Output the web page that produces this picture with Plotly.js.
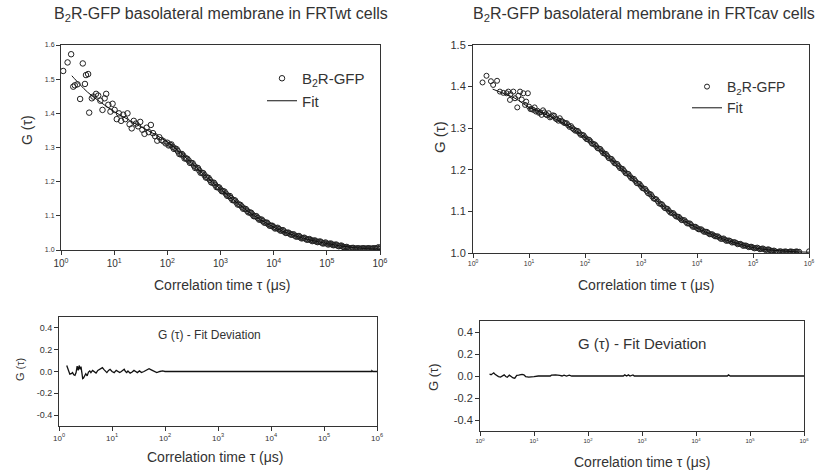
<!DOCTYPE html>
<html>
<head>
<meta charset="utf-8">
<script src="https://cdn.plot.ly/plotly-3.0.1.min.js"></script>
<style>html,body{margin:0;padding:0;background:#fff;}#chart{width:825px;height:475px;}</style>
</head>
<body>
<div id="chart"></div>
<script>
// ---------- data: FRTwt (left) ----------
const tauWt = [1.10,1.33,1.55,1.70,1.82,2.04,2.29,2.57,2.82,2.95,3.24,3.39,3.80,4.07,4.57,5.01,5.50,6.03,6.61,7.08,7.76,8.51,9.33,
 10.2,11.2,12.3,13.5,14.8,16.2,17.8,19.5,21.4,23.4,25.7,28.2,30.9,33.9,37.2,40.7,44.7,49.0,53.7,58.9,64.6,70.8,77.6,85.1,93.3,
 100,112,126,141,158,178,200,224,251,282,316,355,398,447,501,562,631,708,794,891,
 1000,1120,1260,1410,1580,1780,2000,2240,2510,2820,3160,3550,3980,4470,5010,5620,6310,7080,7940,8910,
 10000,11200,12600,14100,15800,17800,20000,22400,25100,28200,31600,35500,39800,44700,50100,56200,63100,70800,79400,89100,
 100000,112000,126000,141000,158000,178000,200000,224000,251000,282000,316000,355000,398000,447000,501000,562000,631000,708000,794000,891000,1000000];
const gWt = [1.524,1.549,1.573,1.478,1.482,1.485,1.442,1.546,1.486,1.512,1.515,1.402,1.444,1.449,1.457,1.452,1.437,1.410,1.444,1.457,1.425,1.405,1.428,
 1.410,1.383,1.400,1.378,1.396,1.383,1.400,1.368,1.356,1.378,1.370,1.362,1.375,1.352,1.340,1.358,1.345,1.366,1.342,1.333,1.320,1.330,1.322,1.318,1.312,
 1.314,1.308,1.302,1.297,1.289,1.280,1.276,1.268,1.262,1.255,1.247,1.241,1.233,1.226,1.219,1.212,1.205,1.197,1.191,1.184,
 1.177,1.172,1.165,1.158,1.152,1.146,1.139,1.133,1.127,1.121,1.115,1.110,1.104,1.099,1.094,1.089,1.084,1.080,1.075,1.071,
 1.067,1.064,1.061,1.057,1.054,1.050,1.048,1.045,1.042,1.040,1.037,1.035,1.033,1.031,1.029,1.027,1.025,1.024,1.022,1.020,
 1.019,1.018,1.016,1.015,1.013,1.012,1.010,1.008,1.006,1.005,1.006,1.004,1.005,1.004,1.005,1.004,1.005,1.004,1.005,1.006,1.004];
// interleaved correlator channels (dense band)
const tauWtB = [106,119,133,150,168,188,211,237,266,299,335,376,422,473,531,596,668,750,841,944,
 1060,1190,1330,1500,1680,1880,2110,2370,2660,2990,3350,3760,4220,4730,5310,5960,6680,7500,8410,9440,
 10600,11900,13300,15000,16800,18800,21100,23700,26600,29900,33500,37600,42200,47300,53100,59600,66800,75000,84100,94400,
 106000,119000,133000,150000,168000,188000,211000,237000,266000,299000,335000,376000,422000,473000,531000,596000,668000,750000,841000,944000];
const gWtB = [1.306,1.309,1.296,1.295,1.281,1.281,1.268,1.267,1.255,1.254,1.240,1.240,1.226,1.225,1.212,1.211,1.198,1.197,1.184,1.183,
 1.172,1.171,1.159,1.158,1.146,1.145,1.133,1.132,1.121,1.120,1.110,1.109,1.099,1.099,1.089,1.089,1.080,1.080,1.071,1.071,
 1.063,1.065,1.057,1.058,1.050,1.051,1.045,1.046,1.039,1.041,1.034,1.036,1.030,1.032,1.026,1.028,1.023,1.025,1.019,1.022,
 1.016,1.019,1.014,1.016,1.011,1.013,1.008,1.009,1.004,1.006,1.003,1.005,1.003,1.005,1.003,1.005,1.003,1.005,1.004,1.008];
const fitTauWt = [1.6,1.78,3.16,5.62,10,17.8,31.6,56.2,100,178,316,562,1000,1780,3160,5620,10000,17800,31600,56200,100000,178000,316000,562000,1000000];
const fitWt = [1.510,1.502,1.462,1.432,1.405,1.383,1.361,1.340,1.316,1.284,1.248,1.212,1.178,1.146,1.115,1.089,1.067,1.050,1.037,1.027,1.019,1.012,1.007,1.004,1.003];
const resTauWt = [1.4,1.5,1.6,1.7,1.8,1.9,2.0,2.1,2.2,2.3,2.4,2.5,2.6,2.7,2.8,2.9,3.0,3.2,3.4,3.6,3.8,4.0,4.3,4.6,5.0,5.4,5.8,6.2,6.6,7.0,7.5,8.0,8.6,9.2,
 10,11,12,13,14,15,16,17,18,19,20,22,24,26,28,30,33,36,40,45,50,55,60,65,70,80,90,100,120,130,140,180,190,200,350,360,380,420,450,480,500,790000,800000,830000,1000000];
const resWt = [0.055,0.020,-0.025,-0.020,-0.010,-0.030,-0.035,-0.010,0.050,0.010,0.055,0.020,0.045,-0.010,-0.065,-0.060,-0.040,-0.020,-0.040,-0.005,0.005,-0.010,0.010,0.000,-0.015,0.010,0.020,0.030,0.035,0.020,0.000,-0.010,0.010,0.020,
 0.000,-0.010,0.010,0.000,-0.010,0.000,0.015,0.020,0.000,-0.010,0.005,-0.015,-0.005,0.010,0.000,-0.010,0.005,-0.010,0.000,0.015,0.025,0.015,0.005,0.000,-0.010,0.000,0.005,0.000,0.000,0.005,0.000,0.000,0.005,0.000,0.000,0.005,0.000,0.005,0.000,0.005,0.000,0.000,0.008,0.000,0.000];

// ---------- data: FRTcav (right) ----------
const tauCav = [1.48,1.74,2.09,2.29,2.69,3.02,3.47,3.98,4.27,4.57,4.68,5.25,5.62,6.17,6.46,6.92,7.41,7.94,8.51,8.91,9.55,
 10,11.2,12.6,14.1,15.8,17.8,20,22.4,25.1,28.2,31.6,35.5,39.8,44.7,50.1,56.2,63.1,70.8,79.4,89.1,
 100,112,126,141,158,178,200,224,251,282,316,355,398,447,501,562,631,708,794,891,
 1000,1120,1260,1410,1580,1780,2000,2240,2510,2820,3160,3550,3980,4470,5010,5620,6310,7080,7940,8910,
 10000,11200,12600,14100,15800,17800,20000,22400,25100,28200,31600,35500,39800,44700,50100,56200,63100,70800,79400,89100,
 100000,112000,126000,141000,158000,178000,200000,224000,251000,282000,316000,355000,398000,447000,501000,562000,631000,1000000];
const gCav = [1.410,1.426,1.413,1.404,1.414,1.388,1.385,1.384,1.388,1.368,1.382,1.388,1.372,1.350,1.378,1.388,1.369,1.384,1.356,1.364,1.384,
 1.352,1.346,1.350,1.342,1.338,1.343,1.333,1.336,1.328,1.330,1.321,1.324,1.316,1.312,1.307,1.305,1.297,1.294,1.288,1.284,
 1.278,1.273,1.268,1.262,1.257,1.251,1.245,1.239,1.233,1.227,1.221,1.215,1.209,1.203,1.197,1.191,1.185,1.179,1.173,1.167,
 1.161,1.155,1.149,1.142,1.136,1.130,1.124,1.118,1.112,1.107,1.101,1.096,1.092,1.087,1.083,1.079,1.075,1.071,1.067,1.063,
 1.060,1.057,1.054,1.051,1.048,1.045,1.042,1.040,1.037,1.034,1.032,1.030,1.028,1.026,1.024,1.022,1.020,1.018,1.016,1.015,
 1.013,1.012,1.011,1.010,1.009,1.008,1.007,1.005,1.004,1.003,1.004,1.003,1.003,1.003,1.003,1.003,1.003,1.004];
const tauCavB = [10.6,11.9,13.3,15.0,16.8,18.8,21.1,23.7,26.6,29.9,33.5,37.6,42.2,47.3,53.1,59.6,66.8,75.0,84.1,94.4,
 106,119,133,150,168,188,211,237,266,299,335,376,422,473,531,596,668,750,841,944,
 1060,1190,1330,1500,1680,1880,2110,2370,2660,2990,3350,3760,4220,4730,5310,5960,6680,7500,8410,9440,
 10600,11900,13300,15000,16800,18800,21100,23700,26600,29900,33500,37600,42200,47300,53100,59600,66800,75000,84100,94400,
 106000,119000,133000,150000,168000,188000,211000,237000,266000,299000,335000,376000,422000,473000,531000,596000,668000];
const gCavB = [1.346,1.344,1.340,1.337,1.332,1.338,1.331,1.326,1.331,1.323,1.318,1.318,1.313,1.312,1.303,1.300,1.294,1.293,1.284,1.283,
 1.274,1.272,1.263,1.261,1.252,1.250,1.240,1.238,1.228,1.226,1.216,1.214,1.204,1.202,1.192,1.190,1.180,1.178,1.168,1.166,
 1.156,1.154,1.144,1.141,1.131,1.129,1.119,1.117,1.108,1.106,1.097,1.096,1.088,1.087,1.079,1.079,1.071,1.071,1.063,1.063,
 1.057,1.057,1.051,1.051,1.045,1.045,1.040,1.040,1.034,1.035,1.029,1.030,1.025,1.026,1.021,1.022,1.017,1.018,1.014,1.015,
 1.011,1.013,1.009,1.011,1.007,1.009,1.005,1.006,1.002,1.004,1.002,1.004,1.002,1.004,1.002,1.004,1.003];
const fitTauCav = [2.24,3.16,5.62,10,17.8,31.6,56.2,100,178,316,562,1000,1780,3160,5620,10000,17800,31600,56200,100000,178000,316000,562000,1000000];
const fitCav = [1.394,1.386,1.372,1.350,1.336,1.320,1.302,1.278,1.251,1.221,1.191,1.161,1.130,1.101,1.079,1.060,1.045,1.032,1.022,1.013,1.008,1.005,1.003,1.002];
const resTauCav = [1.5,1.6,1.7,1.8,1.9,2.0,2.2,2.4,2.6,2.8,3.0,3.2,3.5,3.8,4.1,4.4,4.8,5.2,5.6,6.0,6.5,7.0,8.0,9.0,10,12,15,20,21,25,30,33,36,40,45,50,450,480,520,560,600,680,720,38000,40000,43000,1000000];
const resCav = [0.018,0.012,0.020,0.028,0.015,0.005,-0.005,-0.010,0.000,0.010,-0.005,-0.012,0.008,-0.008,-0.018,-0.020,0.005,0.008,0.012,0.015,0.010,-0.005,-0.010,-0.010,-0.005,0.000,0.000,0.000,0.008,0.010,0.005,0.000,0.008,0.000,0.008,0.000,0.000,0.010,0.000,0.010,0.000,0.010,0.000,0.000,0.010,0.000,0.000];

// ---------- ticks ----------
const xTickVals = [1,10,100,1000,10000,100000,1000000];
const xTickText = ['10<sup>0</sup>','10<sup>1</sup>','10<sup>2</sup>','10<sup>3</sup>','10<sup>4</sup>','10<sup>5</sup>','10<sup>6</sup>'];
const yTopWtVals = [1.0,1.1,1.2,1.3,1.4,1.5,1.6];
const yTopCavVals = [1.0,1.1,1.2,1.3,1.4,1.5];
const yResVals = [-0.4,-0.2,0,0.2,0.4];
const yResText = ['-0.4','-0.2','0.0','0.2','0.4'];

const W = 825, H = 475;
const px = v => v / W;
const py = v => 1 - v / H;
const TXT = '#333333';
const AX = '#333333';
const FONT = 'Liberation Sans, Arial, sans-serif';

function xAxis(dom, anchor, tsize) {
  return {domain: dom, anchor: anchor, type: 'log', range: [0, 6], tickvals: xTickVals, ticktext: xTickText,
    showgrid: false, zeroline: false, showline: true, mirror: true, linecolor: AX, linewidth: 1,
    ticks: 'outside', ticklen: 4, tickcolor: AX, tickfont: {family: FONT, size: tsize, color: TXT}};
}
function yAxis(dom, anchor, range, vals, text, tsize) {
  const a = {domain: dom, anchor: anchor, range: range, tickvals: vals, showgrid: false, zeroline: false,
    showline: true, mirror: true, linecolor: AX, linewidth: 1, ticks: 'outside', ticklen: 4, tickcolor: AX,
    tickfont: {family: FONT, size: tsize, color: TXT}};
  if (text) a.ticktext = text; else a.tickformat = '.1f';
  return a;
}

const mk = {symbol: 'circle-open', size: 5.5, color: '#222', line: {width: 1, color: '#222'}};
const data = [
  {x: tauWt.concat(tauWtB), y: gWt.concat(gWtB), xaxis: 'x', yaxis: 'y', mode: 'markers', name: 'B<sub>2</sub>R-GFP', marker: mk, legend: 'legend'},
  {x: fitTauWt, y: fitWt, xaxis: 'x', yaxis: 'y', mode: 'lines', name: 'Fit', line: {color: '#111', width: 1, shape: 'spline'}, legend: 'legend'},
  {x: tauCav.concat(tauCavB), y: gCav.concat(gCavB), xaxis: 'x2', yaxis: 'y2', mode: 'markers', name: 'B<sub>2</sub>R-GFP', marker: Object.assign({}, mk, {size: 5}), legend: 'legend2'},
  {x: fitTauCav, y: fitCav, xaxis: 'x2', yaxis: 'y2', mode: 'lines', name: 'Fit', line: {color: '#111', width: 1, shape: 'spline'}, legend: 'legend2'},
  {x: resTauWt, y: resWt, xaxis: 'x3', yaxis: 'y3', mode: 'lines', showlegend: false, line: {color: '#111', width: 1.3}},
  {x: resTauCav, y: resCav, xaxis: 'x4', yaxis: 'y4', mode: 'lines', showlegend: false, line: {color: '#111', width: 1.3}}
];

function ann(text, x, y, size, extra) {
  return Object.assign({text: text, x: px(x), y: py(y), xref: 'paper', yref: 'paper', showarrow: false,
    xanchor: 'center', yanchor: 'middle', font: {family: FONT, size: size, color: TXT}}, extra || {});
}

const layout = {
  width: W, height: H, margin: {l: 0, r: 0, t: 0, b: 0},
  paper_bgcolor: '#fff', plot_bgcolor: '#fff', showlegend: true,
  font: {family: FONT, color: TXT},
  xaxis: xAxis([px(61), px(380)], 'y', 10),
  yaxis: yAxis([py(250), py(45)], 'x', [1.0, 1.6], yTopWtVals, null, 7),
  xaxis2: xAxis([px(473), px(809)], 'y2', 7),
  yaxis2: yAxis([py(253), py(45)], 'x2', [1.0, 1.5], yTopCavVals, null, 11),
  xaxis3: xAxis([px(59), px(377)], 'y3', 8),
  yaxis3: yAxis([py(426), py(317)], 'x3', [-0.5, 0.5], yResVals, yResText, 9),
  xaxis4: xAxis([px(480), px(804)], 'y4', 6),
  yaxis4: yAxis([py(431), py(321)], 'x4', [-0.5, 0.5], yResVals, yResText, 11),
  legend: {x: px(262), y: py(62), xanchor: 'left', yanchor: 'top', bgcolor: 'rgba(0,0,0,0)',
    font: {family: FONT, size: 15, color: TXT}, tracegroupgap: 0},
  legend2: {x: px(687), y: py(71), xanchor: 'left', yanchor: 'top', bgcolor: 'rgba(0,0,0,0)',
    font: {family: FONT, size: 14, color: TXT}, tracegroupgap: 0},
  annotations: [
    ann('B<sub>2</sub>R-GFP basolateral membrane in FRTwt cells', 221, 15, 16),
    ann('B<sub>2</sub>R-GFP basolateral membrane in FRTcav cells', 644, 15, 16),
    ann('Correlation time τ (μs)', 222, 285, 14),
    ann('Correlation time τ (μs)', 646, 285, 14),
    ann('Correlation time τ (μs)', 215, 457, 14),
    ann('Correlation time τ (μs)', 642, 462, 14),
    ann('G (τ)', 27, 130, 14, {textangle: -90}),
    ann('G (τ)', 440, 137, 15, {textangle: -90}),
    ann('G (τ)', 20, 370, 11, {textangle: -90}),
    ann('G (τ)', 433, 377, 13, {textangle: -90}),
    ann('G (τ) - Fit Deviation', 210, 335, 12),
    ann('G (τ) - Fit Deviation', 642, 343, 15)
  ]
};

Plotly.newPlot('chart', data, layout, {staticPlot: true, displayModeBar: false});
</script>
</body>
</html>
